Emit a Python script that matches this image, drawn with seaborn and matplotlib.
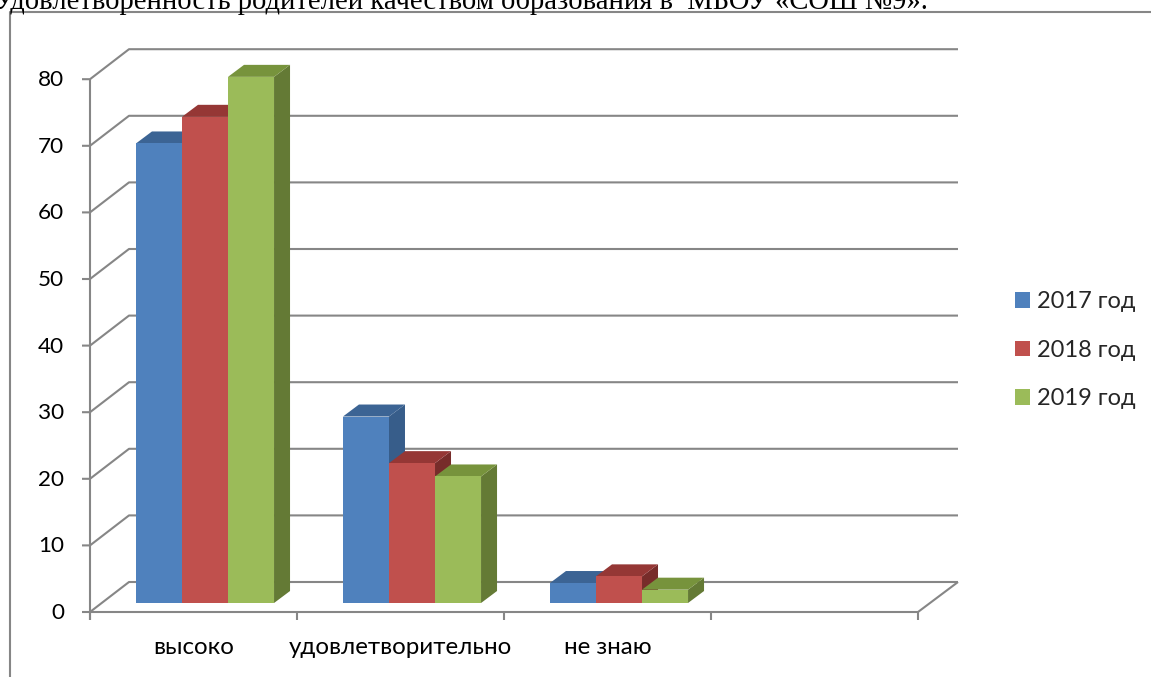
"""
Удовлетворенность родителей качеством образования: псевдо-3D столбцы на seaborn
"""
import matplotlib
matplotlib.use('Agg')
import matplotlib.pyplot as plt
import pandas as pd
import seaborn as sns
from matplotlib.patches import Polygon

# ========== данные ==========
categories = ['высоко', 'удовлетворительно', 'не знаю']
empty_slots = [' ', '  ']
years = ['2017 год', '2018 год', '2019 год']
values_2017 = [69, 28, 3]
values_2018 = [73, 21, 4]
values_2019 = [79, 19, 2]
y_ticks = [0, 10, 20, 30, 40, 50, 60, 70, 80]
caption = 'Удовлетворенность родителей качеством образования в  МБОУ «СОШ №9».'

# ========== стиль ==========
C_FRONT = ['#4F81BD', '#C0504D', '#9BBB59']
C_TOP = ['#3C6494', '#953735', '#77933C']
C_SIDE = ['#375D8A', '#772C2A', '#647A35']
C_LINE = '#868686'
W, H = 1151, 677
PX_PER_UNIT = 6.66
SLOT = 207

sns.set_theme(style='white')
plt.rcParams['font.family'] = ['Lato', 'DejaVu Sans']

df = pd.DataFrame({
    'cat': categories * 3,
    'year': [y for y in years for _ in categories],
    'value': values_2017 + values_2018 + values_2019,
})

fig = plt.figure(figsize=(W / 100, H / 100), dpi=100, facecolor='white')

# ========== рамка, стенки и сетка (координаты в пикселях) ==========
bg = fig.add_axes([0, 0, 1, 1])
bg.set_xlim(0, W)
bg.set_ylim(H, 0)
bg.axis('off')


def line(xs, ys, lw=1.5):
    bg.plot(xs, ys, color=C_LINE, lw=lw, solid_capstyle='butt')


line([10, 10, W], [H, 12, 12], lw=1.5)
for v in y_ticks:
    yf = 612 - v * PX_PER_UNIT
    line([82, 90, 129, 958], [yf, yf, yf - 30, yf - 30])
    bg.text(64, yf + 1, str(v), ha='right', va='center', fontsize=16.2, color='black')
line([90, 90], [612 - 80 * PX_PER_UNIT, 620])
line([90, 918, 958], [612, 612, 582])
for i in range(5):
    line([90 + i * SLOT] * 2, [612, 620])
for i, c in enumerate(categories):
    bg.text(90 + (i + 0.5) * SLOT, 647, c, ha='center', va='center', fontsize=17.4, color='black')
bg.text(928, 9, caption, ha='right', va='baseline', fontsize=20.6, color='black',
        family=['Liberation Serif', 'DejaVu Serif'])

# ========== столбцы ==========
ax = fig.add_axes([(205 - SLOT / 2) / W, (H - 603) / H, 5 * SLOT / W, 80 * PX_PER_UNIT / H])
ax.patch.set_alpha(0)
sns.barplot(data=df, x='cat', y='value', hue='year', order=categories + empty_slots,
            hue_order=years, palette=C_FRONT, saturation=1, width=0.667, gap=0,
            linewidth=0, ax=ax)
ax.set_xlim(-0.5, 4.5)
ax.set_ylim(0, 80)

# глубина столбца: 16 px вправо и 12 px вверх
dx = 16 / SLOT
dy = 12 / PX_PER_UNIT
for s, cont in enumerate(ax.containers):
    for bar in cont:
        x0, w, h = bar.get_x(), bar.get_width(), bar.get_height()
        x1 = x0 + w
        bar.set_zorder(3 + s + 0.5)
        ax.add_patch(Polygon([(x1, 0), (x1 + dx, dy), (x1 + dx, h + dy), (x1, h)],
                             facecolor=C_SIDE[s], lw=0, zorder=3 + s, clip_on=False))
        ax.add_patch(Polygon([(x0, h), (x0 + dx, h + dy), (x1 + dx, h + dy), (x1, h)],
                             facecolor=C_TOP[s], lw=0, zorder=3 + s, clip_on=False))

# ========== легенда ==========
sns.move_legend(ax, loc='upper left', bbox_to_anchor=(1015 / W, 1 - 291 / H),
                bbox_transform=fig.transFigure, frameon=False, title=None,
                fontsize=17, borderpad=0, borderaxespad=0,
                handlelength=0.64, handleheight=0.64, handletextpad=0.3,
                labelspacing=1.17)
ax.axis('off')

fig.savefig('out.png', dpi=100)
